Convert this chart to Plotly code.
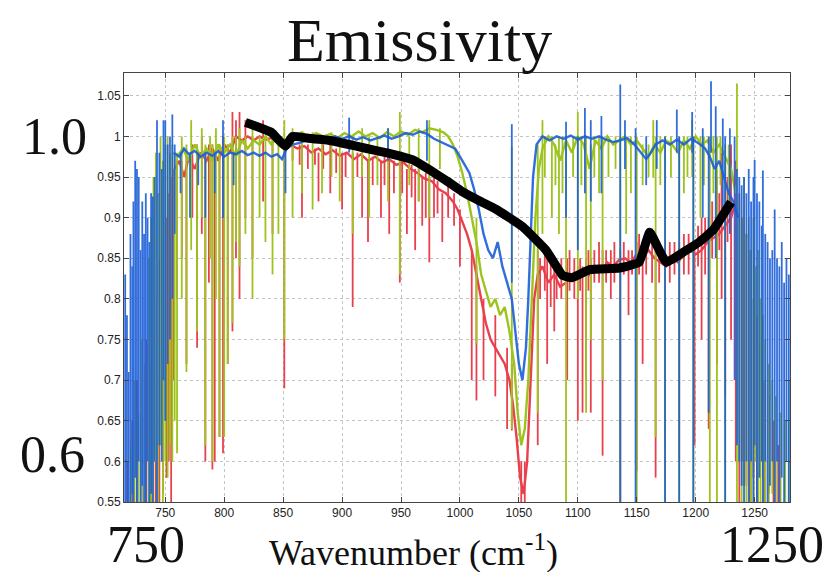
import plotly.graph_objects as go

# ---------------- data ----------------
x_ticks = [750, 800, 850, 900, 950, 1000, 1050, 1100, 1150, 1200, 1250]
y_ticks = [0.55, 0.6, 0.65, 0.7, 0.75, 0.8, 0.85, 0.9, 0.95, 1.0, 1.05]
y_tick_text = ["0.55", "0.6", "0.65", "0.7", "0.75", "0.8", "0.85", "0.9", "0.95", "1", "1.05"]

# blue spectrum: baseline
blue_base_wn = [757, 762, 766, 770, 775, 780, 785, 790, 795, 800, 805, 810, 815, 820, 825, 830, 835, 840, 845, 849,
                853, 858, 864, 870, 876, 882, 888, 894, 900, 906, 912, 918, 924, 930, 936, 942, 948, 954, 960, 966,
                972, 978, 984, 990, 996, 1000, 1004, 1008, 1012, 1016, 1020, 1024, 1028, 1032, 1036, 1040, 1044, 1047,
                1050, 1053, 1056, 1058, 1060, 1062, 1065, 1070, 1076, 1082, 1088, 1094, 1100, 1106, 1112, 1118, 1124,
                1130, 1136, 1142, 1148, 1154, 1158, 1162, 1166, 1172, 1178, 1184, 1190, 1196, 1202, 1208, 1212, 1216,
                1220, 1224, 1228, 1232, 1236]
blue_base_val = [0.98, 0.975, 0.985, 0.978, 0.982, 0.975, 0.98, 0.976, 0.982, 0.975, 0.98, 0.978, 0.982, 0.977, 0.98,
                 0.976, 0.98, 0.975, 0.978, 0.972, 0.985, 0.99, 0.992, 0.995, 0.993, 0.998, 0.996, 1.0, 0.997, 1.0,
                 0.996, 0.999, 0.995, 0.998, 1.001, 0.997, 1.0, 1.004, 1.002, 1.006, 1.003, 0.997, 0.993, 0.99, 0.985,
                 0.975, 0.965, 0.955, 0.935, 0.91, 0.88, 0.86, 0.85, 0.87, 0.84, 0.82, 0.8, 0.76, 0.72, 0.7, 0.74, 0.8,
                 0.88, 0.95, 0.99, 1.0, 0.995, 1.0, 0.997, 1.001, 0.996, 1.0, 0.997, 1.0, 0.996, 0.993, 0.995, 0.998,
                 0.99, 0.98, 0.972, 0.98, 0.99, 0.995, 0.99, 0.996, 0.99, 0.997, 0.992, 0.985, 0.975, 0.96, 0.97, 0.95,
                 0.93, 0.92, 0.9]
# blue spectrum: absorption / noise spikes (wavenumber, top, bottom)
blue_spike_wn = [716, 717.5, 719, 720.5, 722, 723, 724.5, 726, 727.5, 729, 730.5, 732, 733.5, 735, 736.5, 738, 739.5,
                 741, 743, 745, 747, 748.5, 750, 752, 754, 756, 758,
                 763, 771, 778, 784, 792, 799, 808, 852, 906, 939, 972, 1044,
                 1090, 1100, 1106, 1111, 1120, 1136, 1140, 1149, 1158, 1167, 1174, 1184, 1186, 1197, 1198, 1206, 1211,
                 1213, 1217, 1223, 1225, 1229,
                 1233, 1235, 1237, 1239, 1241, 1243, 1245, 1247, 1249, 1250, 1252, 1254, 1256, 1257, 1259, 1261, 1263,
                 1265, 1267, 1269, 1271, 1273, 1275, 1277, 1279]
blue_spike_top = [0.83, 0.78, 0.71, 0.88, 0.84, 0.92, 0.97, 0.96, 0.95, 0.86, 0.92, 0.88, 0.93, 0.9, 0.87, 0.93, 0.926,
                  0.95, 1.02, 0.98, 0.96, 1.02, 1.02, 0.99, 1.0, 1.027, 0.99,
                  0.98, 0.98, 0.98, 0.98, 0.98, 1.02, 0.98, 0.985, 1.023, 1.01, 1.02, 1.015,
                  1.018, 1.0, 1.035, 1.02, 1.025, 1.064, 1.02, 1.01, 1.0, 1.02, 1.0, 1.033, 1.0, 1.03, 1.0, 1.01, 1.0,
                  1.068, 1.037, 1.022, 1.0, 1.01,
                  1.0, 0.96, 0.95, 0.94, 0.95, 0.93, 0.96, 0.92, 0.95, 0.971, 0.93, 0.92, 0.89, 0.958, 0.88, 0.87, 0.85,
                  0.86, 0.91, 0.85, 0.84, 0.87, 0.82, 0.85, 0.83]
blue_spike_bot = [0.55, 0.55, 0.55, 0.55, 0.56, 0.55, 0.58, 0.55, 0.6, 0.55, 0.57, 0.55, 0.55, 0.6, 0.55, 0.56, 0.55,
                  0.6, 0.55, 0.62, 0.6, 0.7, 0.65, 0.72, 0.75, 0.8, 0.88,
                  0.93, 0.9, 0.94, 0.9, 0.93, 0.9, 0.94, 0.93, 0.98, 0.97, 0.97, 0.82,
                  0.9, 0.86, 0.93, 0.92, 0.93, 0.55, 0.96, 0.55, 0.94, 0.96, 0.55, 0.98, 0.55, 0.98, 0.55, 0.9, 0.66,
                  0.98, 0.85, 0.9, 0.55, 0.88,
                  0.7, 0.62, 0.6, 0.57, 0.55, 0.6, 0.55, 0.6, 0.55, 0.62, 0.55, 0.58, 0.6, 0.55, 0.6, 0.55, 0.57,
                  0.6, 0.55, 0.6, 0.55, 0.58, 0.55, 0.6, 0.55]

# green spectrum
green_base_wn = [760, 765, 770, 775, 780, 785, 790, 795, 800, 805, 810, 815, 820, 825, 830, 835, 840, 845, 850, 855,
                 860, 866, 872, 878, 884, 890, 896, 902, 908, 914, 920, 926, 932, 938, 944, 950, 956, 962, 968, 974,
                 980, 986, 990, 994, 998, 1002, 1006, 1010, 1014, 1018, 1022, 1026, 1030, 1034, 1038, 1042, 1046, 1049,
                 1052, 1055, 1058, 1061, 1064, 1067, 1070, 1075, 1080, 1085, 1090, 1095, 1100, 1105, 1110, 1115, 1120,
                 1125, 1130, 1135, 1140, 1145, 1150, 1155, 1160, 1165, 1170, 1175, 1180, 1185, 1190, 1195, 1200, 1205,
                 1210, 1215, 1220, 1225, 1230, 1234]
green_base_val = [0.975, 0.985, 0.97, 0.99, 0.975, 0.985, 0.97, 0.99, 0.98, 0.99, 0.975, 0.995, 0.985, 0.995, 0.99,
                  1.0, 0.99, 1.0, 0.995, 0.99, 1.0, 1.005, 0.998, 1.004, 1.0, 1.003, 0.998, 1.004, 1.0, 1.006, 1.0,
                  1.004, 0.998, 1.005, 1.0, 1.006, 1.002, 1.008, 1.005, 1.01, 1.008, 1.005, 1.0, 0.99, 0.975, 0.955,
                  0.93, 0.9, 0.87, 0.83, 0.81, 0.79, 0.8, 0.78, 0.79, 0.76, 0.72, 0.66, 0.62, 0.64, 0.7, 0.8, 0.9,
                  0.96, 0.985, 1.0, 0.99, 0.97, 0.995, 0.98, 1.0, 0.99, 0.96, 0.995, 0.985, 1.0, 0.99, 0.995, 1.0, 0.99,
                  0.995, 0.985, 0.975, 0.99, 0.98, 0.995, 0.99, 0.98, 0.995, 0.985, 1.0, 0.99, 0.995, 0.98, 0.99,
                  0.975, 0.96, 0.93]
green_spike_wn = [721, 724, 727, 730, 733, 736, 738, 740, 742, 744, 746, 748, 750, 752, 754, 756, 758,
                  760, 764, 768, 772, 777, 781, 784, 788, 790, 793, 796, 800, 803, 807, 810, 813, 818, 824, 830, 835,
                  841, 846, 851, 858, 866, 875, 883, 891, 898, 909, 917, 923, 930, 939, 949, 957, 965, 974, 983,
                  1014, 1044, 1066, 1070, 1078, 1084, 1090, 1100, 1107, 1111, 1121, 1136, 1141, 1150, 1164, 1166,
                  1174, 1186, 1197, 1198, 1204, 1212, 1218, 1225,
                  1235, 1237, 1239, 1241, 1243, 1245, 1247, 1249, 1251, 1253, 1255, 1257, 1259, 1262, 1265, 1268,
                  1272, 1276, 1279]
green_spike_top = [0.62, 0.7, 0.66, 0.75, 0.72, 0.85, 0.9, 0.95, 0.98, 0.93, 1.0, 0.97, 0.99, 1.0, 0.98, 0.99, 0.98,
                   0.98, 1.0, 0.99, 1.02, 0.99, 1.01, 0.99, 1.0, 0.99, 1.01, 0.99, 1.0, 0.99, 1.0, 1.0, 1.01, 1.0,
                   1.01, 1.0, 1.0, 1.0, 1.0, 1.02, 1.01, 1.0, 1.005, 1.0, 1.005, 1.0, 1.0, 1.01, 1.0, 1.0, 1.01, 1.03,
                   1.0, 1.01, 1.02, 1.01,
                   0.9, 0.987, 0.99, 1.02, 1.0, 1.0, 1.0, 1.03, 1.0, 0.99, 1.0, 1.0, 1.0, 1.0, 1.02, 1.0,
                   1.0, 1.0, 1.02, 1.0, 1.0, 1.0, 1.0, 0.99,
                   1.065, 0.92, 0.9, 0.95, 0.88, 0.9, 0.86, 0.9, 0.84, 0.86, 0.8, 0.78, 0.75, 0.72, 0.7, 0.68,
                   0.66, 0.65, 0.7]
green_spike_bot = [0.55, 0.55, 0.55, 0.55, 0.55, 0.55, 0.55, 0.55, 0.6, 0.55, 0.62, 0.55, 0.6, 0.58, 0.62, 0.6, 0.65,
                   0.61, 0.8, 0.71, 0.86, 0.76, 0.9, 0.62, 0.85, 0.6, 0.8, 0.63, 0.63, 0.72, 0.77, 0.87, 0.84, 0.88,
                   0.8, 0.9, 0.87, 0.83, 0.88, 0.75, 0.9, 0.93, 0.91, 0.93, 0.95, 0.92, 0.88, 0.95, 0.9, 0.94, 0.92,
                   0.83, 0.94, 0.92, 0.9, 0.96,
                   0.745, 0.64, 0.66, 0.88, 0.9, 0.88, 0.55, 0.8, 0.66, 0.75, 0.7, 0.55, 0.88, 0.55, 0.95, 0.63,
                   0.55, 0.55, 0.95, 0.55, 0.9, 0.55, 0.55, 0.55,
                   0.55, 0.6, 0.55, 0.57, 0.55, 0.6, 0.55, 0.55, 0.6, 0.55, 0.55, 0.58, 0.55, 0.55, 0.56, 0.55,
                   0.55, 0.55, 0.55]
# green noise band (short fluctuations), 1065-1230
green_band_wn = [1072, 1081, 1087, 1096, 1103, 1114, 1118, 1126, 1132, 1145, 1155, 1160, 1170, 1179, 1190, 1193,
                 1207, 1215, 1221, 1228]
green_band_top = [1.0, 0.99, 1.0, 1.0, 1.0, 1.0, 1.0, 1.0, 1.0, 1.0, 0.99, 0.99, 1.0, 1.0, 1.0, 1.0, 1.0, 1.0, 1.0,
                  0.99]
green_band_bot = [0.95, 0.94, 0.93, 0.95, 0.94, 0.95, 0.93, 0.95, 0.96, 0.93, 0.94, 0.95, 0.94, 0.95, 0.93, 0.95,
                  0.94, 0.93, 0.94, 0.92]

# red spectrum
red_base_wn = [758, 762, 766, 770, 775, 780, 785, 790, 795, 800, 805, 810, 815, 820, 825, 830, 835, 840, 845, 850,
               856, 862, 868, 874, 880, 886, 892, 898, 904, 910, 916, 922, 928, 934, 940, 946, 952, 958, 964, 970,
               976, 982, 988, 994, 998, 1002, 1006, 1010, 1014, 1018, 1022, 1026, 1030, 1034, 1038, 1042, 1045, 1048,
               1051, 1054, 1057, 1060, 1063, 1066, 1070, 1075, 1080, 1085, 1090, 1095, 1100, 1105, 1110, 1115, 1120,
               1125, 1130, 1135, 1140, 1145, 1150, 1155, 1160, 1165, 1170, 1175, 1180, 1185, 1190, 1195, 1200, 1205,
               1210, 1215, 1220, 1225, 1230, 1234]
red_base_val = [0.96, 0.97, 0.95, 0.975, 0.96, 0.98, 0.97, 0.985, 0.97, 0.99, 0.98, 1.0, 0.995, 1.0, 0.995, 1.0,
                0.996, 0.998, 0.995, 0.99, 0.99, 0.985, 0.988, 0.98, 0.985, 0.978, 0.983, 0.976, 0.98, 0.972, 0.978,
                0.97, 0.975, 0.968, 0.972, 0.965, 0.968, 0.96, 0.955, 0.948, 0.945, 0.935, 0.93, 0.92, 0.91, 0.895,
                0.88, 0.86, 0.83, 0.8, 0.77, 0.75, 0.74, 0.73, 0.72, 0.7, 0.67, 0.63, 0.58, 0.56, 0.6, 0.7, 0.8, 0.83,
                0.84, 0.82, 0.83, 0.815, 0.82, 0.83, 0.825, 0.835, 0.83, 0.84, 0.835, 0.845, 0.84, 0.848, 0.85, 0.845,
                0.855, 0.85, 0.86, 0.85, 0.845, 0.84, 0.85, 0.845, 0.855, 0.86, 0.855, 0.86, 0.87, 0.875, 0.88, 0.89,
                0.9, 0.92]
red_spike_wn = [718, 722, 726, 730, 734, 738, 742, 745, 748, 751, 753, 755, 757,
                760, 764, 768, 773, 777, 781, 784, 787, 790, 792, 796, 799, 803, 807, 810, 813, 818, 824, 833, 841,
                851, 866, 880, 890, 900, 909, 917, 922, 933, 940, 949, 955, 962, 968, 974, 985, 1000, 1010, 1014,
                1020, 1030, 1040, 1044, 1052, 1055, 1066, 1074, 1080, 1091, 1100, 1104, 1107, 1111, 1121, 1128, 1136,
                1143, 1150, 1155, 1166, 1174, 1186, 1199, 1205, 1211, 1218, 1222, 1225, 1230,
                1234, 1237, 1240, 1243, 1246, 1249, 1252, 1255, 1258, 1262, 1266, 1270]
red_spike_top = [0.6, 0.65, 0.7, 0.66, 0.75, 0.72, 0.8, 0.85, 0.88, 0.9, 0.93, 0.95, 0.96,
                 0.97, 0.97, 0.98, 0.99, 0.99, 1.0, 0.98, 0.99, 0.99, 0.98, 0.99, 1.0, 0.99, 1.03, 1.02, 1.03, 1.02,
                 1.0, 1.02, 1.0, 0.99, 0.99, 0.98, 0.99, 0.98, 0.98, 0.98, 0.97, 0.97, 0.97, 0.97, 0.96, 0.96, 0.95,
                 0.95, 0.93, 0.91, 0.86, 0.84, 0.8, 0.78, 0.74, 0.72, 0.6, 0.6, 0.86, 0.85, 0.84, 0.85, 0.84, 0.84,
                 0.85, 0.85, 0.86, 0.86, 0.86, 0.86, 0.87, 0.87, 0.86, 0.86, 0.87, 0.87, 0.9, 0.9, 0.95, 0.98, 0.97,
                 0.99,
                 0.97, 0.93, 0.9, 0.88, 0.86, 0.8, 0.78, 0.74, 0.7, 0.68, 0.65, 0.62]
red_spike_bot = [0.55, 0.55, 0.55, 0.55, 0.55, 0.55, 0.55, 0.55, 0.56, 0.58, 0.6, 0.55, 0.7,
                 0.8, 0.85, 0.72, 0.9, 0.74, 0.88, 0.6, 0.82, 0.59, 0.6, 0.63, 0.61, 0.72, 0.76, 0.85, 0.8, 0.9, 0.85,
                 0.92, 0.88, 0.69, 0.9, 0.92, 0.93, 0.91, 0.79, 0.9, 0.87, 0.9, 0.88, 0.82, 0.88, 0.86, 0.89, 0.845,
                 0.87, 0.84, 0.7, 0.675, 0.7, 0.68, 0.64, 0.638, 0.55, 0.55, 0.62, 0.72, 0.76, 0.7, 0.65, 0.66, 0.7,
                 0.66, 0.607, 0.8, 0.55, 0.78, 0.588, 0.72, 0.58, 0.62, 0.6, 0.62, 0.75, 0.64, 0.72, 0.8, 0.68, 0.75,
                 0.6, 0.55, 0.6, 0.57, 0.55, 0.58, 0.55, 0.6, 0.55, 0.56, 0.55, 0.55]
# red noise band (short fluctuations)
red_band_wn = [858, 864, 871, 877, 884, 895, 903, 913, 926, 936, 944, 951, 959, 965, 971, 978, 981, 990, 995,
               1068, 1072, 1077, 1082, 1086, 1093, 1097, 1102, 1109, 1114, 1118, 1124, 1131, 1139, 1146, 1152, 1158,
               1163, 1169, 1178, 1182, 1190, 1194, 1202, 1208, 1214, 1220, 1227]
red_band_top = [0.995, 0.99, 0.99, 0.985, 0.99, 0.985, 0.98, 0.98, 0.975, 0.975, 0.97, 0.97, 0.965, 0.96, 0.955,
                0.95, 0.945, 0.94, 0.93,
                0.85, 0.86, 0.85, 0.84, 0.85, 0.86, 0.85, 0.85, 0.86, 0.86, 0.87, 0.86, 0.87, 0.87, 0.86, 0.88, 0.87,
                0.88, 0.86, 0.87, 0.87, 0.88, 0.88, 0.89, 0.9, 0.92, 0.93, 0.95]
red_band_bot = [0.97, 0.965, 0.96, 0.965, 0.96, 0.955, 0.95, 0.95, 0.94, 0.94, 0.93, 0.93, 0.925, 0.92, 0.9, 0.9,
                0.905, 0.9, 0.89,
                0.8, 0.81, 0.79, 0.8, 0.8, 0.81, 0.8, 0.81, 0.81, 0.82, 0.82, 0.82, 0.82, 0.83, 0.83, 0.83, 0.83,
                0.82, 0.82, 0.82, 0.83, 0.83, 0.83, 0.84, 0.83, 0.85, 0.86, 0.87]

# black fitted curve
fit_wn = [818, 830, 840, 846, 852, 858, 870, 890, 906, 918, 940, 960, 974, 990, 1002, 1016, 1031, 1053, 1073, 1087,
          1095, 1110, 1135, 1152, 1161, 1175, 1190, 1203, 1215, 1230]
fit_val = [1.017, 1.011, 1.005, 0.996, 0.988, 1.0, 0.998, 0.995, 0.99, 0.986, 0.979, 0.971, 0.959, 0.944, 0.932,
           0.921, 0.91, 0.889, 0.86, 0.829, 0.826, 0.836, 0.838, 0.845, 0.882, 0.845, 0.858, 0.87, 0.885, 0.919]

BLUE = "#1c5fd8"
GREEN = "#9dc31d"
RED = "#e8414d"


def spike_xy(wn, top, bot):
    xs, ys = [], []
    for w, t, b in zip(wn, top, bot):
        xs += [w, w, None]
        ys += [t, b, None]
    return xs, ys


fig = go.Figure()

series = [
    (red_base_wn, red_base_val,
     red_spike_wn + red_band_wn, red_spike_top + red_band_top, red_spike_bot + red_band_bot, RED, 1.0),
    (green_base_wn, green_base_val,
     green_spike_wn + green_band_wn, green_spike_top + green_band_top, green_spike_bot + green_band_bot, GREEN, 1.0),
    (blue_base_wn, blue_base_val, blue_spike_wn, blue_spike_top, blue_spike_bot, BLUE, 0.9),
]
for bw, bv, sw, st, sb, col, op in series:
    sx, sy = spike_xy(sw, st, sb)
    fig.add_trace(go.Scatter(x=sx, y=sy, mode="lines", line=dict(color=col, width=1.8),
                             opacity=op, showlegend=False, hoverinfo="skip"))
    fig.add_trace(go.Scatter(x=bw, y=bv, mode="lines", line=dict(color=col, width=2.4),
                             opacity=op, showlegend=False, hoverinfo="skip"))

fig.add_trace(go.Scatter(x=fit_wn, y=fit_val, mode="lines",
                         line=dict(color="black", width=9, shape="spline", smoothing=0.3),
                         showlegend=False, hoverinfo="skip"))

axis_common = dict(showline=True, linecolor="#444", linewidth=1, mirror="ticks", ticks="inside",
                   ticklen=5, tickcolor="#444", showgrid=True, gridcolor="#c4c4c4", griddash="dot",
                   gridwidth=1, zeroline=False,
                   tickfont=dict(family="Liberation Sans, Arial", size=12, color="#222"))

fig.update_xaxes(range=[715, 1280], tickvals=x_ticks, **axis_common)
fig.update_yaxes(range=[0.55, 1.078], tickvals=y_ticks, ticktext=y_tick_text, **axis_common)

serif = "Liberation Serif, Times New Roman, serif"
ann = [
    dict(text="Emissivity", x=0.444, y=1.077, size=62),
    dict(text="1.0", x=-0.104, y=0.851, size=52),
    dict(text="0.6", x=-0.108, y=0.11, size=52),
    dict(text="750", x=0.033, y=-0.1, size=52),
    dict(text="1250", x=0.973, y=-0.1, size=52),
    dict(text="Wavenumber (cm<sup>-1</sup>)", x=0.434, y=-0.112, size=36),
]
for a in ann:
    fig.add_annotation(text=a["text"], x=a["x"], y=a["y"], xref="paper", yref="paper",
                       xanchor="center", yanchor="middle", showarrow=False,
                       font=dict(family=serif, size=a["size"], color="#111"))

fig.update_layout(width=829, height=572, margin=dict(l=124, r=39, t=73, b=70),
                  plot_bgcolor="white", paper_bgcolor="white")

fig.write_html("out.html")
